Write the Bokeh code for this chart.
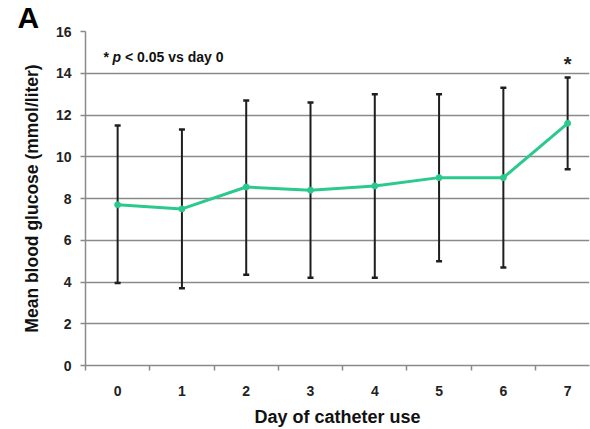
from bokeh.plotting import figure
from bokeh.models import FixedTicker, Whisker, ColumnDataSource, Label, TeeHead, Range1d, Title
from bokeh.embed import file_html
from bokeh.resources import INLINE

days = [0, 1, 2, 3, 4, 5, 6, 7]
day_labels = ["0", "1", "2", "3", "4", "5", "6", "7"]
mean_glucose = [7.7, 7.5, 8.55, 8.4, 8.6, 9.0, 9.0, 11.6]
upper = [11.5, 11.3, 12.7, 12.6, 13.0, 13.0, 13.3, 13.8]
lower = [3.95, 3.7, 4.35, 4.2, 4.2, 5.0, 4.7, 9.4]
y_ticks = [0, 2, 4, 6, 8, 10, 12, 14, 16]
significant_day = 7

FONT = "Liberation Sans"
GRID = "#8a8a8a"
GREEN = "#2cc98e"

p = figure(width=590, height=429, output_backend="svg", toolbar_location=None,
           x_range=Range1d(-0.5, 7.34), y_range=Range1d(0, 16),
           min_border_left=85, min_border_right=1, min_border_top=31, min_border_bottom=62)
p.outline_line_color = None
p.background_fill_color = "white"
p.border_fill_color = "white"

# panel letter as a title above the frame (titles are not clipped to the frame)
p.add_layout(Title(text="A", align="left", offset=-68, standoff=-4,
                   text_font=FONT, text_font_style="bold", text_font_size="30px",
                   text_color="#000000"), "above")

# grid
p.xgrid.grid_line_color = None
p.ygrid.grid_line_color = GRID
p.ygrid.grid_line_width = 1.6
p.ygrid.ticker = FixedTicker(ticks=y_ticks)

# y axis
p.yaxis.ticker = FixedTicker(ticks=y_ticks)
p.yaxis.axis_line_color = GRID
p.yaxis.axis_line_width = 1.5
p.yaxis.major_tick_line_color = GRID
p.yaxis.major_tick_line_width = 1.5
p.yaxis.major_tick_out = 5
p.yaxis.major_tick_in = 0
p.yaxis.minor_tick_line_color = None
p.yaxis.major_label_text_font = FONT
p.yaxis.major_label_text_font_style = "bold"
p.yaxis.major_label_text_font_size = "14px"
p.yaxis.major_label_text_color = "#222222"
p.yaxis.major_label_standoff = 9
p.yaxis.axis_label = "Mean blood glucose (mmol/liter)"
p.yaxis.axis_label_text_font = FONT
p.yaxis.axis_label_text_font_style = "bold"
p.yaxis.axis_label_text_font_size = "17.5px"
p.yaxis.axis_label_text_color = "#111111"
p.yaxis.axis_label_standoff = 11

# x axis
p.xaxis.ticker = FixedTicker(ticks=days, minor_ticks=[d - 0.5 for d in days])
p.xaxis.major_label_overrides = {d: l for d, l in zip(days, day_labels)}
p.xaxis.axis_line_color = GRID
p.xaxis.axis_line_width = 1.5
p.xaxis.major_tick_line_color = None
p.xaxis.major_tick_out = 0
p.xaxis.major_tick_in = 0
p.xaxis.minor_tick_line_color = GRID
p.xaxis.minor_tick_line_width = 1.5
p.xaxis.minor_tick_out = 5
p.xaxis.minor_tick_in = 0
p.xaxis.major_label_text_font = FONT
p.xaxis.major_label_text_font_style = "bold"
p.xaxis.major_label_text_font_size = "14px"
p.xaxis.major_label_text_color = "#222222"
p.xaxis.major_label_standoff = 15
p.xaxis.axis_label = "Day of catheter use"
p.xaxis.axis_label_text_font = FONT
p.xaxis.axis_label_text_font_style = "bold"
p.xaxis.axis_label_text_font_size = "18px"
p.xaxis.axis_label_text_color = "#111111"
p.xaxis.axis_label_standoff = 8

src = ColumnDataSource(dict(x=days, y=mean_glucose, upper=upper, lower=lower))

w = Whisker(source=src, base="x", upper="upper", lower="lower",
            line_color="#1e1e1e", line_width=2,
            upper_head=TeeHead(size=6, line_color="#1e1e1e", line_width=2.5),
            lower_head=TeeHead(size=6, line_color="#1e1e1e", line_width=2.5))
p.add_layout(w)

p.line("x", "y", source=src, line_color=GREEN, line_width=3)
p.scatter("x", "y", source=src, size=6, fill_color=GREEN, line_color=GREEN)

# significance star
p.add_layout(Label(x=significant_day, y=14.43, text="*", text_font=FONT, text_font_style="bold",
                   text_font_size="20px", text_align="center", text_baseline="middle",
                   text_color="#222222"))

# annotation
ann_y = 14.76
p.add_layout(Label(x=-0.22, y=ann_y, text="*", text_font=FONT, text_font_style="bold",
                   text_font_size="14px", text_baseline="alphabetic", text_color="#111111"))
p.add_layout(Label(x=-0.08, y=ann_y, text="p", text_font=FONT, text_font_style="bold italic",
                   text_font_size="14px", text_baseline="alphabetic", text_color="#111111"))
p.add_layout(Label(x=0.114, y=ann_y, text="< 0.05 vs day 0", text_font=FONT, text_font_style="bold",
                   text_font_size="14px", text_baseline="alphabetic", text_color="#111111"))

open("out.html", "w").write(file_html(p, INLINE))
